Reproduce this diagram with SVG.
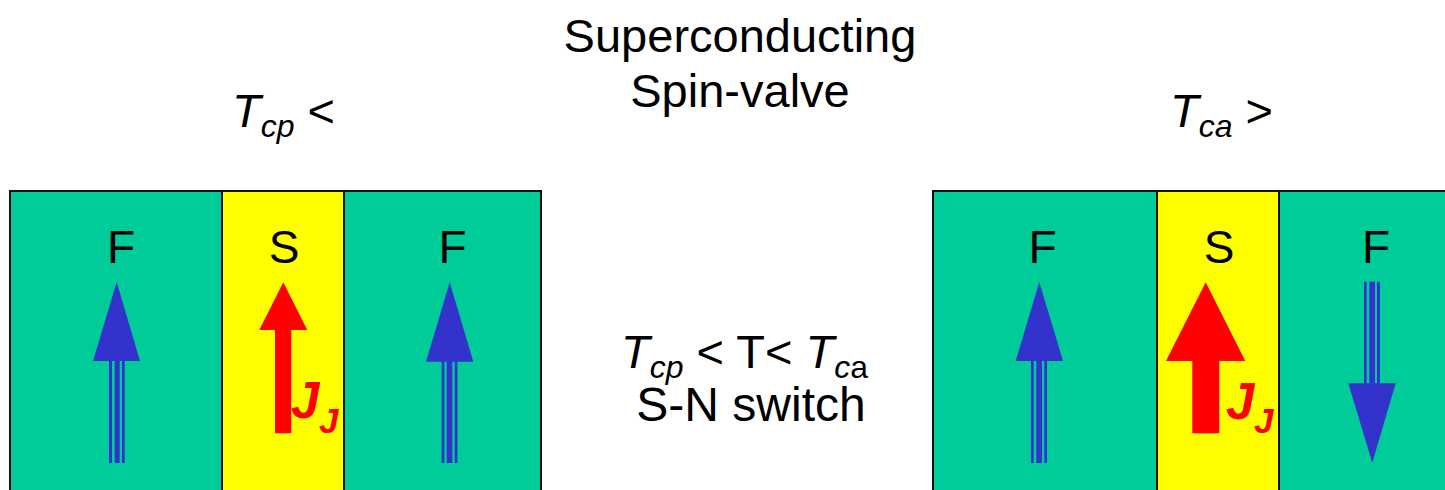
<svg xmlns="http://www.w3.org/2000/svg" width="1445" height="490" viewBox="0 0 1445 490">
<style>
.t{font-family:"Liberation Sans",Arial,sans-serif;fill:#000}
.lbl{font-family:"Liberation Sans",Arial,sans-serif;font-size:46px;fill:#000;text-anchor:middle}
.f{fill:#00CC99;stroke:#111;stroke-width:2}
.s{fill:#FFFF00;stroke:#111;stroke-width:2}
.b{fill:#3333CC}
.r{fill:#FF0000}
.j{font-family:"Liberation Sans",Arial,sans-serif;font-weight:bold;font-style:italic;fill:#FF0000}
</style>
<rect width="1445" height="490" fill="#fff"/>
<g id="title">
<text class="t" x="740" y="52" font-size="47" text-anchor="middle">Superconducting</text>
<text class="t" x="740" y="107" font-size="47" text-anchor="middle">Spin-valve</text>
</g>
<g id="label-left">
<text class="t" x="232" y="127" font-size="47"><tspan font-style="italic">T</tspan><tspan font-style="italic" font-size="32" dy="10">cp</tspan><tspan dy="-10"> &lt;</tspan></text>
</g>
<g id="label-right">
<text class="t" x="1170" y="127" font-size="47"><tspan font-style="italic">T</tspan><tspan font-style="italic" font-size="32" dy="10">ca</tspan><tspan dy="-10"> &gt;</tspan></text>
</g>
<g id="label-middle">
<text class="t" x="621" y="368" font-size="47"><tspan font-style="italic">T</tspan><tspan font-style="italic" font-size="32" dy="10">cp</tspan><tspan dy="-10"> &lt; T&lt; </tspan><tspan font-style="italic">T</tspan><tspan font-style="italic" font-size="32" dy="10">c</tspan><tspan font-size="32">a</tspan></text>
<text class="t" x="751" y="421" font-size="48" text-anchor="middle">S-N switch</text>
</g>
<g id="valve-left">
<rect class="f" x="10" y="191" width="212" height="310"/>
<rect class="s" x="222" y="191" width="122" height="310"/>
<rect class="f" x="344" y="191" width="197" height="310"/>
<text class="lbl" x="121" y="263">F</text>
<text class="lbl" x="284" y="263">S</text>
<text class="lbl" x="452.5" y="263">F</text>
<g id="arrow-l1">
<polygon class="b" points="116.7,282 93,361 140,361"/>
<rect class="b" x="109" y="361" width="3" height="102"/>
<rect class="b" x="114.7" y="361" width="5" height="102"/>
<rect class="b" x="122" y="361" width="2.7" height="102"/>
</g>
<g id="arrow-l2">
<polygon class="r" points="283.3,282.3 259.3,330 307.3,330"/>
<rect class="r" x="275" y="329" width="16.3" height="104.3"/>
<text class="j" x="291" y="418" font-size="51">J</text>
<text class="j" x="319" y="433" font-size="35">J</text>
</g>
<g id="arrow-l3">
<polygon class="b" points="449.7,282.3 426,361.7 473.3,361.7"/>
<rect class="b" x="441.7" y="361" width="2.7" height="102"/>
<rect class="b" x="446.7" y="361" width="5.6" height="102"/>
<rect class="b" x="454.7" y="361" width="2.7" height="102"/>
</g>
</g>
<g id="valve-right">
<rect class="f" x="933" y="191" width="224" height="310"/>
<rect class="s" x="1157" y="191" width="122" height="310"/>
<rect class="f" x="1279" y="191" width="180" height="310"/>
<text class="lbl" x="1042.5" y="263">F</text>
<text class="lbl" x="1219" y="263">S</text>
<text class="lbl" x="1376" y="263">F</text>
<g id="arrow-r1">
<polygon class="b" points="1039.3,282 1015.7,361 1063,361"/>
<rect class="b" x="1031" y="361" width="2.7" height="102"/>
<rect class="b" x="1036.3" y="361" width="5.7" height="102"/>
<rect class="b" x="1044.3" y="361" width="2.7" height="102"/>
</g>
<g id="arrow-r2">
<polygon class="r" points="1205.7,282.3 1166,361 1245.3,361"/>
<rect class="r" x="1192.3" y="360" width="27" height="73.3"/>
<text class="j" x="1226" y="419" font-size="51">J</text>
<text class="j" x="1254" y="433" font-size="35">J</text>
</g>
<g id="arrow-r3">
<rect class="b" x="1364" y="281.7" width="2.7" height="102"/>
<rect class="b" x="1369.3" y="281.7" width="5.7" height="102"/>
<rect class="b" x="1377" y="281.7" width="3" height="102"/>
<polygon class="b" points="1348.3,383.3 1395.7,383.3 1372.3,462.7"/>
</g>
</g>
</svg>
